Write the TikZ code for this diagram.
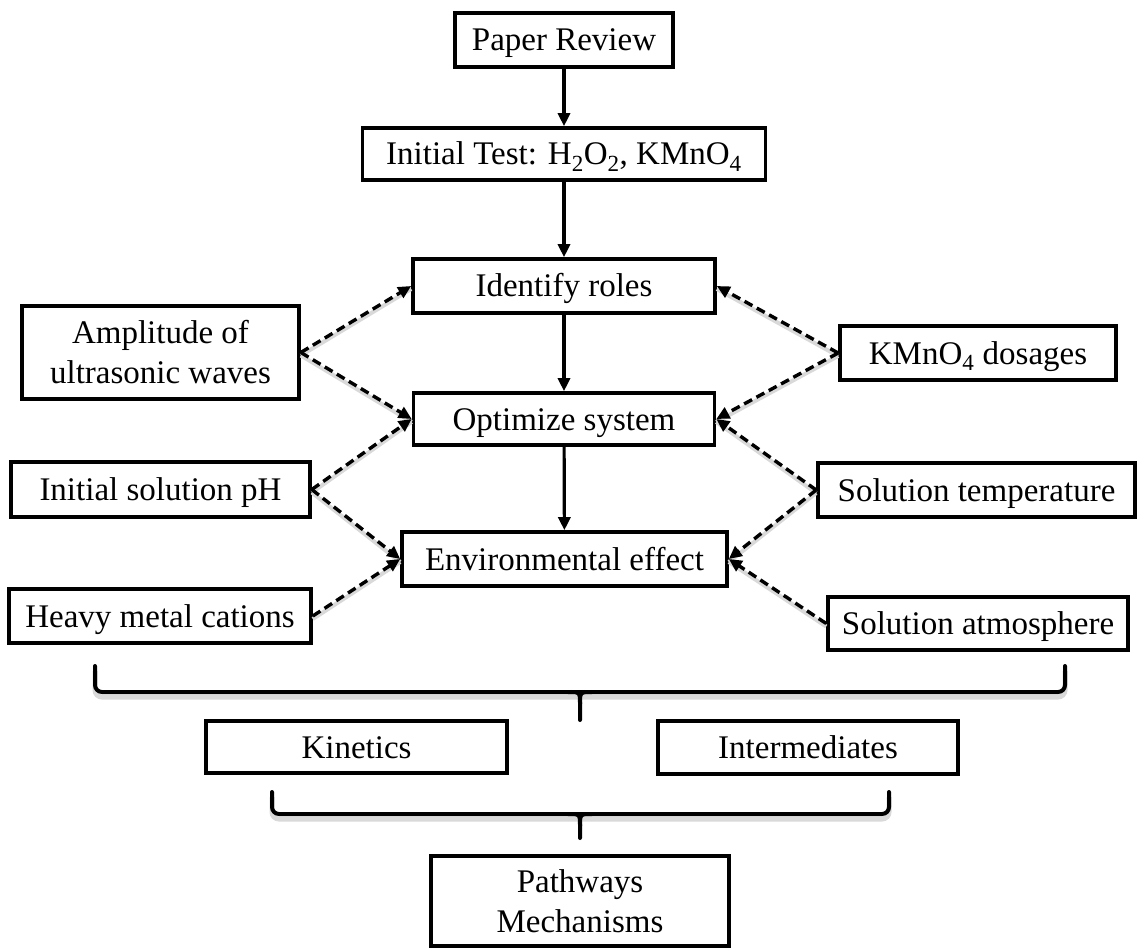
\documentclass[tikz,border=0pt]{standalone}
\usepackage{fontspec}
\setmainfont{Liberation Serif}
\usetikzlibrary{arrows.meta}
\begin{document}
\begin{tikzpicture}[x=1pt,y=-1pt,
  box/.style={draw=black, line width=3.6pt, fill=white, inner sep=0pt, align=center,
    font=\fontsize{33}{40}\selectfont},
  onebox/.style={box, text height=22pt, text depth=0pt},
  solidarrow/.style={line width=3.2pt, -{Triangle[length=13pt,width=12pt]}},
  dasharrow/.style={line width=3.4pt, dash pattern=on 9pt off 5pt,
    -{Triangle[length=13pt,width=12pt]},
    preaction={draw=black!15, line width=4pt, solid, -, transform canvas={yshift=-3pt}}},
  bracestyle/.style={line width=4pt, line cap=round},
  braceshadow/.style={draw=black!15, line width=5pt, transform canvas={yshift=-5pt}}
]
\useasboundingbox (0,0) rectangle (1139,949);

% main column
\node[onebox, minimum width=218pt, minimum height=54pt] (pr) at (564,40) {Paper Review};
\node[onebox, minimum width=403pt, minimum height=52pt] (it) at (564,154) {Initial Test: H\textsubscript{2}O\textsubscript{2}, KMnO\textsubscript{4}};
\node[onebox, minimum width=302pt, minimum height=54pt] (ir) at (564,286) {Identify roles};
\node[onebox, minimum width=301pt, minimum height=52pt] (os) at (564,419) {Optimize system};
\node[onebox, minimum width=325pt, minimum height=54pt] (ee) at (564.5,559) {Environmental effect};

% left factors
\node[box, minimum width=277pt, minimum height=93pt] (amp) at (160.5,352.5) {Amplitude of\\ultrasonic waves};
\node[onebox, minimum width=299pt, minimum height=55pt] (ph) at (160.5,489.5) {Initial solution pH};
\node[onebox, minimum width=302pt, minimum height=54pt] (hm) at (160,616) {Heavy metal cations};

% right factors
\node[onebox, minimum width=276pt, minimum height=54pt] (kmn) at (978,353) {KMnO\textsubscript{4} dosages};
\node[onebox, minimum width=317pt, minimum height=54pt] (st) at (976.5,490) {Solution temperature};
\node[onebox, minimum width=300pt, minimum height=53pt] (sa) at (978,623.5) {Solution atmosphere};

% lower boxes
\node[onebox, minimum width=301pt, minimum height=52pt] (kin) at (356.5,747) {Kinetics};
\node[onebox, minimum width=300pt, minimum height=53pt] (int) at (808,747.5) {Intermediates};
\node[box, minimum width=298pt, minimum height=90pt] (pw) at (580,901) {Pathways\\Mechanisms};

% solid arrows
\draw[solidarrow] (pr) -- (it);
\draw[solidarrow] (it) -- (ir);
\draw[solidarrow] (ir) -- (os);
\draw[solidarrow] (os) -- (ee);

% dashed arrows
\draw[dasharrow] (amp.east) -- (ir.west);
\draw[dasharrow] (amp.east) -- (os.west);
\draw[dasharrow] (ph.east) -- (os.west);
\draw[dasharrow] (ph.east) -- (ee.west);
\draw[dasharrow] (hm.east) -- (ee.west);
\draw[dasharrow] (kmn.west) -- (ir.east);
\draw[dasharrow] (kmn.west) -- (os.east);
\draw[dasharrow] (st.west) -- (os.east);
\draw[dasharrow] (st.west) -- (ee.east);
\draw[dasharrow] (sa.west) -- (ee.east);

% braces
\coordinate (b1l) at (95,666);
\coordinate (b1r) at (1065,666);
\coordinate (b1m) at (580,720);
\coordinate (b2l) at (272,792);
\coordinate (b2r) at (889,792);
\coordinate (b2m) at (580,838);

\draw[braceshadow, rounded corners=7pt] (b1l) -- (95,692) -- (1065,692) -- (b1r);
\draw[bracestyle, rounded corners=7pt] (b1l) -- (95,692) -- (1065,692) -- (b1r);
\draw[bracestyle] (568,692) .. controls (580,692) .. (580,704) -- (b1m);
\draw[bracestyle] (592,692) .. controls (580,692) .. (580,704);

\draw[braceshadow, rounded corners=7pt] (b2l) -- (272,814) -- (889,814) -- (b2r);
\draw[bracestyle, rounded corners=7pt] (b2l) -- (272,814) -- (889,814) -- (b2r);
\draw[bracestyle] (568,814) .. controls (580,814) .. (580,826) -- (b2m);
\draw[bracestyle] (592,814) .. controls (580,814) .. (580,826);
\end{tikzpicture}
\end{document}
